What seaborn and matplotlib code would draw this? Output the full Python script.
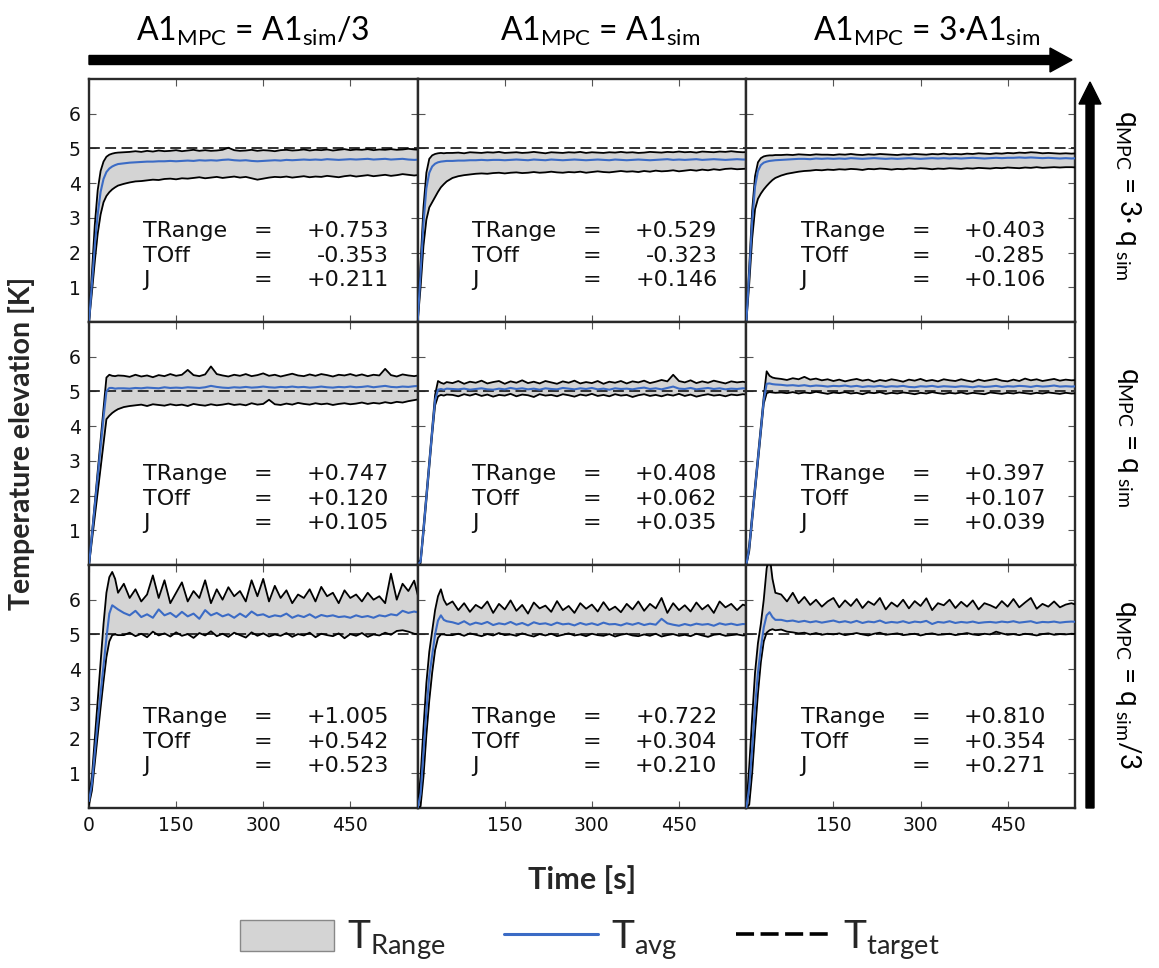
import numpy as np
import matplotlib
matplotlib.use("Agg")
import matplotlib.pyplot as plt
import seaborn as sns
from matplotlib.patches import FancyArrow, Patch
from matplotlib.lines import Line2D

# Sampling grid [s]: fine during the heat-up, 10 s afterwards
time_s = np.r_[0:55:5, 60:571:10]

# Row 1: q_MPC = 3*q_sim
t_max_11 = [0.00, 1.40, 2.80, 3.80, 4.35, 4.62, 4.76, 4.82, 4.85, 4.87, 4.88,
            4.89, 4.90, 4.92, 4.90, 4.93, 4.91, 4.94, 4.92, 4.93, 4.95,
            4.92, 4.94, 4.96, 4.93, 4.95, 4.93, 4.94, 4.96, 5.02, 4.95,
            4.93, 4.94, 4.96, 4.93, 4.95, 4.94, 4.92, 4.95, 4.96, 4.94,
            4.95, 4.97, 4.94, 4.96, 4.95, 4.97, 4.94, 4.96, 4.98, 4.95,
            4.97, 4.96, 4.98, 4.95, 4.97, 4.96, 4.98, 4.96, 4.97, 4.99,
            4.97, 4.96]
t_avg_11 = [0.00, 1.10, 2.20, 3.10, 3.75, 4.12, 4.32, 4.42, 4.48, 4.52, 4.55,
            4.57, 4.59, 4.60, 4.61, 4.62, 4.62, 4.63, 4.63, 4.64, 4.63,
            4.64, 4.65, 4.64, 4.66, 4.65, 4.66, 4.65, 4.67, 4.68, 4.66,
            4.65, 4.66, 4.64, 4.63, 4.64, 4.65, 4.66, 4.65, 4.67, 4.66,
            4.67, 4.68, 4.67, 4.68, 4.67, 4.69, 4.68, 4.67, 4.68, 4.69,
            4.68, 4.69, 4.70, 4.68, 4.69, 4.70, 4.68, 4.69, 4.70, 4.68,
            4.67, 4.68]
t_min_11 = [0.00, 0.85, 1.75, 2.55, 3.10, 3.45, 3.63, 3.74, 3.82, 3.88, 3.93,
            3.98, 4.02, 4.05, 4.06, 4.08, 4.10, 4.09, 4.12, 4.13, 4.11,
            4.14, 4.13, 4.15, 4.17, 4.14, 4.16, 4.18, 4.15, 4.17, 4.19,
            4.16, 4.18, 4.14, 4.10, 4.13, 4.16, 4.18, 4.17, 4.19, 4.16,
            4.18, 4.20, 4.17, 4.19, 4.18, 4.21, 4.19, 4.17, 4.20, 4.22,
            4.19, 4.21, 4.23, 4.20, 4.22, 4.24, 4.21, 4.23, 4.26, 4.24,
            4.22, 4.24]

t_max_12 = [0.00, 1.70, 3.30, 4.30, 4.70, 4.80, 4.84, 4.86, 4.87, 4.86, 4.87,
            4.87, 4.88, 4.86, 4.89, 4.88, 4.87, 4.89, 4.88, 4.90, 4.87,
            4.88, 4.89, 4.87, 4.88, 4.90, 4.88, 4.86, 4.89, 4.88, 4.87,
            4.89, 4.88, 4.90, 4.87, 4.89, 4.88, 4.87, 4.89, 4.88, 4.90,
            4.88, 4.89, 4.87, 4.88, 4.90, 4.89, 4.88, 4.90, 4.89, 4.91,
            4.89, 4.90, 4.88, 4.91, 4.90, 4.89, 4.91, 4.90, 4.92, 4.90,
            4.89, 4.90]
t_avg_12 = [0.00, 1.40, 2.85, 3.85, 4.30, 4.48, 4.56, 4.60, 4.62, 4.63, 4.64,
            4.64, 4.65, 4.65, 4.66, 4.66, 4.67, 4.66, 4.67, 4.67, 4.66,
            4.67, 4.68, 4.67, 4.66, 4.68, 4.67, 4.66, 4.68, 4.67, 4.66,
            4.67, 4.68, 4.67, 4.66, 4.67, 4.68, 4.67, 4.66, 4.68, 4.67,
            4.66, 4.67, 4.68, 4.67, 4.66, 4.67, 4.68, 4.69, 4.67, 4.68,
            4.67, 4.68, 4.69, 4.67, 4.68, 4.69, 4.68, 4.67, 4.68, 4.69,
            4.68, 4.68]
t_min_12 = [0.00, 1.00, 2.20, 2.95, 3.30, 3.45, 3.60, 3.75, 3.88, 3.97, 4.05,
            4.15, 4.20, 4.23, 4.25, 4.27, 4.28, 4.27, 4.29, 4.30, 4.28,
            4.30, 4.31, 4.29, 4.30, 4.32, 4.30, 4.31, 4.33, 4.31, 4.30,
            4.32, 4.31, 4.33, 4.30, 4.32, 4.34, 4.32, 4.31, 4.33, 4.35,
            4.33, 4.34, 4.32, 4.35, 4.33, 4.36, 4.34, 4.35, 4.37, 4.34,
            4.36, 4.38, 4.36, 4.39, 4.37, 4.40, 4.38, 4.41, 4.42, 4.40,
            4.41, 4.42]

t_max_13 = [0.00, 1.60, 3.20, 4.20, 4.60, 4.72, 4.77, 4.79, 4.80, 4.80, 4.81,
            4.81, 4.82, 4.81, 4.83, 4.82, 4.81, 4.83, 4.82, 4.82, 4.81,
            4.83, 4.82, 4.84, 4.82, 4.81, 4.83, 4.82, 4.84, 4.83, 4.82,
            4.81, 4.83, 4.82, 4.84, 4.83, 4.82, 4.84, 4.83, 4.85, 4.83,
            4.84, 4.83, 4.85, 4.84, 4.86, 4.85, 4.84, 4.86, 4.85, 4.87,
            4.86, 4.88, 4.87, 4.89, 4.88, 4.86, 4.87, 4.86, 4.85, 4.86,
            4.85, 4.86]
t_avg_13 = [0.00, 1.40, 2.90, 3.90, 4.35, 4.52, 4.59, 4.62, 4.64, 4.65, 4.66,
            4.67, 4.68, 4.69, 4.70, 4.70, 4.69, 4.71, 4.70, 4.71, 4.70,
            4.71, 4.70, 4.72, 4.71, 4.70, 4.71, 4.72, 4.71, 4.70, 4.71,
            4.70, 4.71, 4.72, 4.71, 4.70, 4.71, 4.72, 4.71, 4.72, 4.71,
            4.72, 4.71, 4.72, 4.73, 4.72, 4.71, 4.72, 4.73, 4.72, 4.73,
            4.73, 4.74, 4.73, 4.74, 4.73, 4.72, 4.73, 4.72, 4.71, 4.72,
            4.71, 4.72]
t_min_13 = [0.00, 1.10, 2.40, 3.25, 3.55, 3.70, 3.82, 3.92, 4.01, 4.09, 4.15,
            4.22, 4.27, 4.30, 4.33, 4.35, 4.36, 4.38, 4.37, 4.39, 4.38,
            4.40, 4.39, 4.41, 4.40, 4.38, 4.41, 4.40, 4.42, 4.41, 4.39,
            4.41, 4.40, 4.42, 4.41, 4.43, 4.42, 4.40, 4.42, 4.41, 4.43,
            4.42, 4.41, 4.43, 4.42, 4.44, 4.43, 4.42, 4.44, 4.43, 4.45,
            4.44, 4.43, 4.45, 4.44, 4.46, 4.44, 4.45, 4.46, 4.45, 4.46,
            4.46, 4.45]

# Row 2: q_MPC = q_sim
t_max_21 = [0.00, 0.90, 1.80, 2.70, 3.60, 4.50, 5.40, 5.48, 5.45, 5.44, 5.46,
            5.45, 5.42, 5.48, 5.43, 5.46, 5.41, 5.47, 5.44, 5.50, 5.45,
            5.48, 5.62, 5.47, 5.44, 5.49, 5.72, 5.50, 5.46, 5.43, 5.48,
            5.45, 5.50, 5.44, 5.47, 5.52, 5.45, 5.48, 5.43, 5.47, 5.51,
            5.46, 5.44, 5.49, 5.45, 5.50, 5.47, 5.43, 5.48, 5.46, 5.50,
            5.45, 5.49, 5.44, 5.48, 5.46, 5.65, 5.47, 5.43, 5.49, 5.46,
            5.44, 5.47]
t_avg_21 = [0.00, 0.85, 1.70, 2.55, 3.40, 4.25, 5.00, 5.10, 5.10, 5.08, 5.09,
            5.09, 5.08, 5.10, 5.09, 5.11, 5.10, 5.09, 5.12, 5.10, 5.11,
            5.10, 5.12, 5.11, 5.10, 5.12, 5.16, 5.13, 5.11, 5.10, 5.12,
            5.11, 5.13, 5.11, 5.12, 5.14, 5.12, 5.11, 5.13, 5.12, 5.14,
            5.12, 5.13, 5.11, 5.12, 5.14, 5.12, 5.11, 5.13, 5.12, 5.14,
            5.12, 5.13, 5.15, 5.12, 5.14, 5.16, 5.13, 5.12, 5.14, 5.13,
            5.15, 5.16]
t_min_21 = [0.00, 0.70, 1.40, 2.10, 2.80, 3.50, 4.20, 4.30, 4.38, 4.44, 4.49,
            4.55, 4.58, 4.60, 4.62, 4.58, 4.63, 4.61, 4.59, 4.63, 4.60,
            4.62, 4.58, 4.64, 4.61, 4.59, 4.63, 4.60, 4.62, 4.65, 4.61,
            4.63, 4.60, 4.66, 4.62, 4.64, 4.76, 4.63, 4.61, 4.65, 4.62,
            4.67, 4.64, 4.62, 4.66, 4.63, 4.65, 4.61, 4.64, 4.66, 4.63,
            4.65, 4.68, 4.64, 4.67, 4.65, 4.69, 4.66, 4.70, 4.68, 4.72,
            4.75, 4.78]

t_max_22 = [0.00, 0.15, 1.10, 2.05, 3.00, 3.95, 4.90, 5.30, 5.25, 5.22, 5.27,
            5.24, 5.30, 5.22, 5.28, 5.25, 5.31, 5.23, 5.27, 5.30, 5.22,
            5.29, 5.25, 5.32, 5.24, 5.28, 5.23, 5.30, 5.26, 5.22, 5.29,
            5.25, 5.31, 5.23, 5.27, 5.24, 5.30, 5.22, 5.28, 5.25, 5.30,
            5.23, 5.29, 5.26, 5.31, 5.24, 5.28, 5.33, 5.29, 5.48, 5.30,
            5.26, 5.32, 5.24, 5.29, 5.25, 5.31, 5.27, 5.23, 5.29, 5.26,
            5.28, 5.25]
t_avg_22 = [0.00, 0.10, 1.00, 1.95, 2.90, 3.85, 4.75, 5.05, 5.07, 5.05, 5.08,
            5.07, 5.06, 5.08, 5.05, 5.07, 5.09, 5.06, 5.05, 5.08, 5.06,
            5.10, 5.07, 5.09, 5.06, 5.08, 5.05, 5.09, 5.07, 5.06, 5.10,
            5.08, 5.06, 5.09, 5.07, 5.10, 5.06, 5.08, 5.05, 5.09, 5.07,
            5.08, 5.06, 5.09, 5.11, 5.07, 5.09, 5.06, 5.10, 5.14, 5.08,
            5.07, 5.10, 5.06, 5.08, 5.10, 5.07, 5.09, 5.06, 5.08, 5.07,
            5.09, 5.08]
t_min_22 = [0.00, 0.05, 0.90, 1.85, 2.80, 3.75, 4.60, 4.86, 4.90, 4.88, 4.91,
            4.90, 4.86, 4.92, 4.88, 4.93, 4.87, 4.91, 4.85, 4.90, 4.88,
            4.93, 4.86, 4.91, 4.89, 4.84, 4.92, 4.88, 4.90, 4.86, 4.92,
            4.89, 4.85, 4.91, 4.88, 4.93, 4.87, 4.90, 4.86, 4.92, 4.88,
            4.90, 4.84, 4.89, 4.92, 4.87, 4.90, 4.86, 4.91, 4.88, 4.93,
            4.87, 4.91, 4.85, 4.89, 4.92, 4.88, 4.90, 4.86, 4.91, 4.89,
            4.92, 4.90]

t_max_23 = [0.00, 0.60, 1.45, 2.30, 3.15, 4.00, 4.85, 5.58, 5.45, 5.40, 5.38,
            5.36, 5.33, 5.38, 5.35, 5.42, 5.34, 5.37, 5.32, 5.35, 5.30,
            5.34, 5.29, 5.33, 5.36, 5.31, 5.34, 5.28, 5.33, 5.30, 5.35,
            5.32, 5.28, 5.34, 5.31, 5.36, 5.30, 5.33, 5.29, 5.35, 5.32,
            5.30, 5.35, 5.31, 5.28, 5.34, 5.30, 5.33, 5.36, 5.31, 5.29,
            5.34, 5.30, 5.37, 5.32, 5.35, 5.30, 5.33, 5.36, 5.31, 5.34,
            5.32, 5.33]
t_avg_23 = [0.00, 0.50, 1.35, 2.20, 3.05, 3.90, 4.75, 5.22, 5.23, 5.21, 5.20,
            5.19, 5.17, 5.18, 5.16, 5.18, 5.15, 5.17, 5.16, 5.14, 5.16,
            5.15, 5.17, 5.14, 5.16, 5.13, 5.15, 5.14, 5.16, 5.13, 5.15,
            5.14, 5.16, 5.13, 5.12, 5.15, 5.14, 5.16, 5.13, 5.15, 5.14,
            5.13, 5.15, 5.14, 5.12, 5.15, 5.13, 5.14, 5.16, 5.13, 5.15,
            5.14, 5.16, 5.15, 5.13, 5.16, 5.14, 5.15, 5.17, 5.14, 5.15,
            5.14, 5.15]
t_min_23 = [0.00, 0.40, 1.25, 2.10, 2.95, 3.80, 4.65, 4.95, 4.98, 4.97, 4.96,
            4.97, 4.95, 4.98, 4.94, 4.97, 4.95, 4.99, 4.96, 4.93, 4.97,
            4.95, 4.98, 4.94, 4.96, 4.92, 4.97, 4.95, 4.98, 4.93, 4.96,
            4.94, 4.97, 4.95, 4.92, 4.96, 4.94, 4.98, 4.95, 4.93, 4.96,
            4.94, 4.97, 4.93, 4.96, 4.94, 4.92, 4.97, 4.95, 4.93, 4.96,
            4.94, 4.97, 4.95, 4.93, 4.96, 4.94, 4.97, 4.95, 4.93, 4.96,
            4.94, 4.95]

# Row 3: q_MPC = q_sim/3
t_max_31 = [0.30, 0.90, 2.00, 3.10, 4.20, 5.30, 6.20, 6.65, 6.80, 6.60, 6.20,
            6.46, 6.05, 6.30, 5.95, 6.15, 6.70, 6.05, 6.56, 5.90, 6.20,
            6.50, 5.95, 6.25, 6.05, 6.56, 5.90, 6.30, 6.00, 6.36, 6.10,
            6.25, 5.95, 6.56, 6.10, 6.60, 5.95, 6.40, 6.05, 6.27, 5.90,
            6.15, 6.05, 6.30, 5.95, 6.37, 6.10, 6.20, 5.90, 6.27, 6.05,
            6.15, 5.95, 6.20, 6.00, 6.10, 5.90, 6.75, 6.00, 6.46, 6.25,
            6.55, 5.88]
t_avg_31 = [0.20, 0.70, 1.60, 2.50, 3.30, 4.10, 4.90, 5.60, 5.84, 5.78, 5.72,
            5.62, 5.55, 5.68, 5.50, 5.58, 5.48, 5.72, 5.55, 5.62, 5.50,
            5.65, 5.52, 5.60, 5.45, 5.70, 5.55, 5.62, 5.52, 5.58, 5.48,
            5.60, 5.50, 5.66, 5.55, 5.58, 5.50, 5.55, 5.52, 5.60, 5.48,
            5.55, 5.50, 5.58, 5.48, 5.56, 5.52, 5.55, 5.50, 5.52, 5.48,
            5.55, 5.50, 5.53, 5.48, 5.55, 5.52, 5.58, 5.55, 5.68, 5.62,
            5.66, 5.62]
t_min_31 = [0.10, 0.50, 1.30, 2.10, 2.90, 3.65, 4.35, 4.80, 4.98, 5.00, 4.98,
            4.98, 5.05, 4.95, 5.02, 4.92, 5.08, 4.97, 5.03, 4.94, 5.06,
            4.96, 5.01, 4.90, 5.04, 4.97, 5.09, 4.95, 5.02, 4.93, 5.05,
            4.98, 4.91, 5.06, 4.96, 5.03, 4.94, 5.00, 4.96, 5.04, 4.93,
            5.01, 4.97, 5.05, 4.92, 5.02, 4.98, 4.95, 5.03, 4.89, 5.01,
            4.96, 5.04, 4.93, 5.00, 4.97, 5.05, 4.99, 5.10, 5.12, 5.08,
            5.02, 5.00]

t_max_32 = [0.00, 0.90, 2.30, 3.60, 4.50, 5.10, 5.70, 6.10, 6.30, 6.00, 5.85,
            5.95, 5.70, 5.90, 5.65, 5.85, 5.75, 5.95, 5.62, 5.88, 5.72,
            5.98, 5.68, 5.85, 5.60, 5.92, 5.75, 5.83, 5.65, 5.96, 5.70,
            5.82, 5.62, 5.90, 5.74, 5.86, 5.66, 5.93, 5.70, 5.80, 5.64,
            5.88, 5.72, 5.95, 5.68, 5.88, 5.75, 6.05, 5.62, 5.90, 5.70,
            5.84, 5.66, 5.92, 5.72, 5.85, 5.62, 5.95, 5.78, 5.88, 5.70,
            5.86, 5.80]
t_avg_32 = [0.00, 0.40, 1.60, 2.80, 3.80, 4.40, 5.00, 5.40, 5.55, 5.42, 5.38,
            5.35, 5.30, 5.38, 5.28, 5.34, 5.30, 5.36, 5.27, 5.32, 5.29,
            5.36, 5.28, 5.33, 5.26, 5.35, 5.30, 5.32, 5.27, 5.34, 5.29,
            5.31, 5.26, 5.33, 5.28, 5.32, 5.27, 5.34, 5.29, 5.30, 5.26,
            5.32, 5.28, 5.33, 5.27, 5.31, 5.28, 5.45, 5.32, 5.28, 5.25,
            5.30, 5.26, 5.31, 5.28, 5.30, 5.25, 5.32, 5.28, 5.31, 5.27,
            5.30, 5.29]
t_min_32 = [0.00, 0.05, 0.90, 2.10, 3.10, 3.90, 4.55, 4.90, 5.00, 5.00, 4.98,
            4.98, 5.02, 4.96, 5.03, 4.99, 4.95, 5.01, 4.97, 5.04, 4.98,
            5.00, 4.96, 5.03, 4.98, 4.94, 5.01, 4.97, 5.02, 4.95, 4.99,
            5.03, 4.97, 5.00, 4.95, 5.02, 4.98, 4.96, 5.01, 4.94, 4.99,
            5.02, 4.97, 4.95, 5.00, 4.96, 5.02, 4.94, 4.98, 5.01, 4.96,
            4.99, 4.95, 5.02, 4.97, 4.93, 4.99, 5.01, 4.96, 4.98, 5.00,
            4.97, 4.99]

t_max_33 = [0.00, 1.20, 2.60, 3.90, 4.75, 5.30, 6.00, 6.90, 7.30, 6.60, 6.20,
            6.15, 5.95, 6.20, 5.90, 6.08, 5.85, 6.00, 5.80, 5.95, 6.05,
            5.78, 5.98, 5.82, 6.02, 5.76, 5.95, 5.85, 6.05, 5.72, 5.92,
            5.80, 6.00, 5.75, 5.96, 5.82, 6.04, 5.70, 5.90, 5.84, 6.00,
            5.76, 5.94, 5.80, 5.98, 5.72, 5.90, 5.84, 5.76, 5.96, 5.80,
            6.02, 5.78, 5.92, 6.05, 5.74, 5.88, 5.80, 5.95, 5.78, 5.86,
            5.90, 5.84]
t_avg_33 = [0.00, 0.60, 1.70, 2.90, 3.90, 4.60, 5.20, 5.55, 5.64, 5.50, 5.42,
            5.42, 5.38, 5.40, 5.36, 5.39, 5.35, 5.38, 5.34, 5.37, 5.40,
            5.35, 5.38, 5.34, 5.39, 5.33, 5.37, 5.35, 5.40, 5.33, 5.36,
            5.34, 5.38, 5.33, 5.37, 5.35, 5.39, 5.30, 5.36, 5.34, 5.38,
            5.33, 5.36, 5.34, 5.37, 5.33, 5.35, 5.36, 5.34, 5.37, 5.35,
            5.38, 5.34, 5.36, 5.38, 5.33, 5.36, 5.35, 5.37, 5.34, 5.36,
            5.37, 5.36]
t_min_33 = [0.00, 0.10, 1.00, 2.20, 3.30, 4.20, 4.80, 5.05, 5.12, 5.15, 5.12,
            5.14, 5.08, 5.06, 5.03, 5.05, 5.00, 5.04, 4.99, 5.02, 5.00,
            5.03, 4.98, 5.01, 5.04, 5.00, 4.97, 5.02, 5.05, 4.99, 5.01,
            5.03, 4.98, 5.00, 5.02, 4.97, 5.01, 5.03, 4.99, 5.00, 5.02,
            4.98, 5.01, 5.04, 5.00, 4.98, 5.02, 5.00, 5.08, 5.03, 4.99,
            5.01, 4.98, 5.02, 5.00, 4.97, 5.01, 5.03, 4.99, 5.01, 5.00,
            5.02, 5.01]

t_target = 5.0

# Performance indices per panel (rows: q factor, columns: A1 factor)
trange_vals = [[0.753, 0.529, 0.403], [0.747, 0.408, 0.397], [1.005, 0.722, 0.810]]
toff_vals = [[-0.353, -0.323, -0.285], [0.120, 0.062, 0.107], [0.542, 0.304, 0.354]]
j_vals = [[0.211, 0.146, 0.106], [0.105, 0.035, 0.039], [0.523, 0.210, 0.271]]

col_titles = [r"A1$_{\mathrm{MPC}}$ = A1$_{\mathrm{sim}}$/3",
              r"A1$_{\mathrm{MPC}}$ = A1$_{\mathrm{sim}}$",
              r"A1$_{\mathrm{MPC}}$ = 3·A1$_{\mathrm{sim}}$"]
row_titles = [r"q$_{\mathrm{MPC}}$ = 3· q$_{\ \mathrm{sim}}$",
              r"q$_{\mathrm{MPC}}$ = q$_{\ \mathrm{sim}}$",
              r"q$_{\mathrm{MPC}}$ = q$_{\ \mathrm{sim}}$/3"]
y_ticks = [1, 2, 3, 4, 5, 6]
x_ticks_first = [0, 150, 300, 450]
x_ticks_other = [150, 300, 450]

series = {
    (0, 0): (t_min_11, t_avg_11, t_max_11), (0, 1): (t_min_12, t_avg_12, t_max_12),
    (0, 2): (t_min_13, t_avg_13, t_max_13), (1, 0): (t_min_21, t_avg_21, t_max_21),
    (1, 1): (t_min_22, t_avg_22, t_max_22), (1, 2): (t_min_23, t_avg_23, t_max_23),
    (2, 0): (t_min_31, t_avg_31, t_max_31), (2, 1): (t_min_32, t_avg_32, t_max_32),
    (2, 2): (t_min_33, t_avg_33, t_max_33),
}

sns.set_theme(style="ticks")
plt.rcParams.update({
    "font.family": ["DejaVu Sans"],
    "mathtext.fontset": "custom",
    "mathtext.rm": "Lato",
    "mathtext.it": "Lato:italic",
    "mathtext.bf": "Lato:bold",
})

W, H = 1159, 968
fig, axes = plt.subplots(
    3, 3, figsize=(W / 100, H / 100), dpi=100,
    gridspec_kw=dict(left=89 / W, right=1075 / W, top=1 - 79 / H, bottom=1 - 808 / H,
                     wspace=0, hspace=0))

band_color = "#d4d4d4"
avg_color = "#3b6bc5"

for (r, c), (lo, avg, hi) in series.items():
    ax = axes[r, c]
    ax.fill_between(time_s, lo, hi, color=band_color, lw=0, zorder=1)
    ax.axhline(t_target, color="#222222", lw=1.3, ls=(0, (6, 3)), zorder=2)
    sns.lineplot(x=time_s, y=hi, ax=ax, color="black", lw=1.3, estimator=None, zorder=3)
    sns.lineplot(x=time_s, y=lo, ax=ax, color="black", lw=1.3, estimator=None, zorder=3)
    sns.lineplot(x=time_s, y=avg, ax=ax, color=avg_color, lw=1.5, estimator=None, zorder=4)
    ax.set_xlim(0, 566)
    ax.set_ylim(0, 7)
    ax.set_yticks(y_ticks)
    ax.set_xticks(x_ticks_first if c == 0 else x_ticks_other)
    ax.set_xlabel("")
    ax.set_ylabel("")
    ax.tick_params(direction="in", top=True, right=True, length=5, width=0.8,
                   color="#555555", labelsize=13.5, pad=6, labelcolor="#111111",
                   labelleft=(c == 0), labelbottom=(r == 2))
    for sp in ax.spines.values():
        sp.set_linewidth(1.7)
        sp.set_color("#2a2a2a")
        sp.set_visible(True)

    names = ["TRange", "TOff", "J"]
    vals = [trange_vals[r][c], toff_vals[r][c], j_vals[r][c]]
    for k, (nm, v) in enumerate(zip(names, vals)):
        yy = 0.375 - k * 0.102
        kw = dict(transform=ax.transAxes, va="center", fontsize=16, color="#111111")
        ax.text(0.165, yy, nm, ha="left", **kw)
        ax.text(0.53, yy, "=", ha="center", **kw)
        ax.text(0.912, yy, f"{v:+.3f}", ha="right", **kw)

# Column headers and horizontal arrow
for x_px, title in zip([253, 600, 927], col_titles):
    fig.text(x_px / W, 1 - 31 / H, title, ha="center", va="center",
             fontsize=23, family="Lato", color="black")
fig.add_artist(FancyArrow(89 / W, 1 - 60 / H, (1072 - 89) / W, 0, width=9 / H,
                          head_width=24 / H, head_length=22 / W,
                          length_includes_head=True, color="black",
                          transform=fig.transFigure))

# Row labels and vertical arrow
for y_px, title in zip([195, 437, 685], row_titles):
    fig.text(1128 / W, 1 - y_px / H, title, ha="center", va="center", rotation=-90,
             fontsize=20, family="Lato", color="black")
fig.add_artist(FancyArrow(1090 / W, 1 - 808 / H, 0, (808 - 82) / H, width=8 / W,
                          head_width=22 / W, head_length=22 / H,
                          length_includes_head=True, color="black",
                          transform=fig.transFigure))

fig.text(22 / W, 1 - 443 / H, "Temperature elevation [K]", rotation=90, ha="center",
         va="center", fontsize=20.5, fontweight="bold", family="Lato")
fig.text(582 / W, 1 - 880 / H, "Time [s]", ha="center", va="center",
         fontsize=22, fontweight="bold", family="Lato")

handles = [Patch(facecolor=band_color, edgecolor="#888888", lw=1.0),
           Line2D([], [], color=avg_color, lw=2.2),
           Line2D([], [], color="black", lw=2.6, ls=(0, (5, 1.8)))]
labels = [r"T$_{\mathrm{Range}}$", r"T$_{\mathrm{avg}}$", r"T$_{\mathrm{target}}$"]
fig.legend(handles, labels, loc="center", bbox_to_anchor=(590 / W, 1 - 940 / H),
           ncol=3, frameon=False, handlelength=2.4, handleheight=0.85,
           handletextpad=0.35, columnspacing=1.5,
           prop=dict(family="Lato", size=28))

fig.savefig("out.png", dpi=100)
